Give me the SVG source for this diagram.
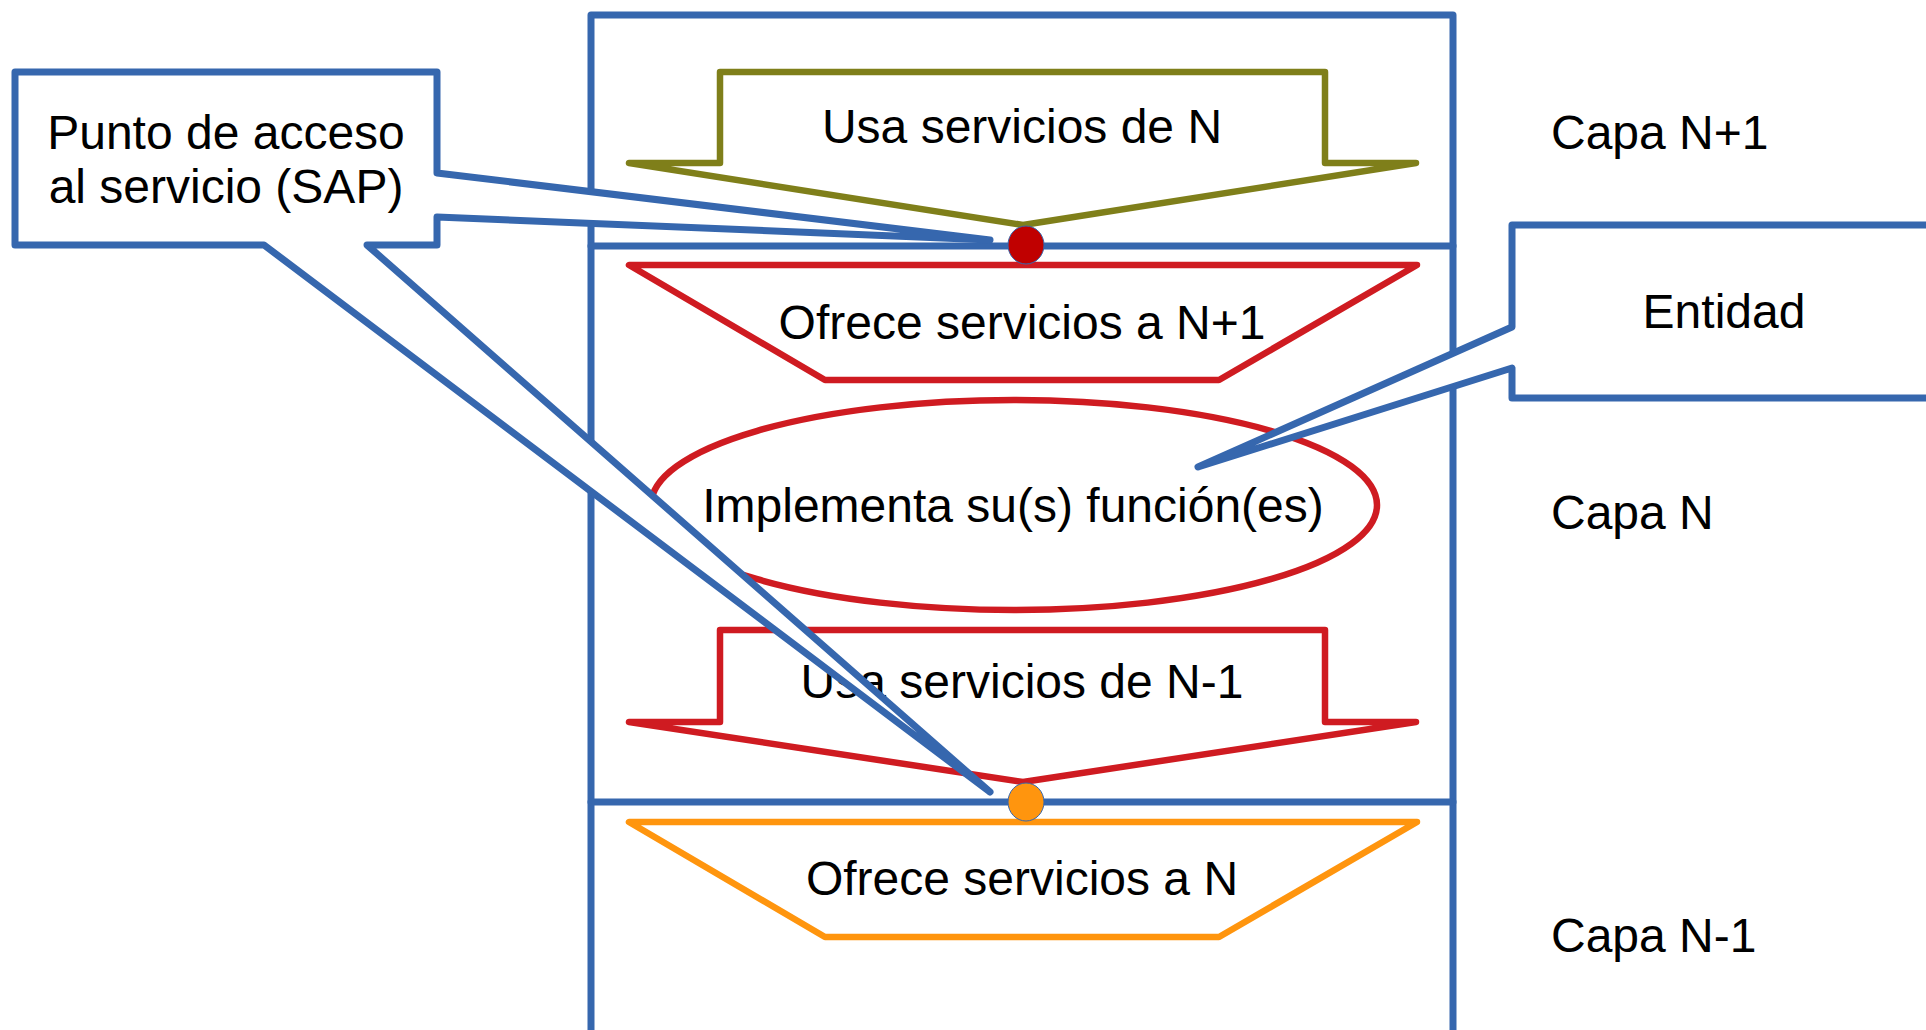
<svg xmlns="http://www.w3.org/2000/svg" width="1926" height="1030" viewBox="0 0 1926 1030">
<style>
.t{font-family:"Liberation Sans",Arial,sans-serif;font-size:48px;fill:#000;}
.c{text-anchor:middle;}
.blue{fill:none;stroke:#3667ae;stroke-width:7;stroke-linejoin:round;stroke-linecap:round;}
.call{fill:#fff;stroke:#3667ae;stroke-width:7;stroke-linejoin:round;stroke-linecap:round;}
.shape{fill:#fff;stroke-width:6.5;stroke-linejoin:round;stroke-linecap:round;}
</style>
<rect width="1926" height="1030" fill="#fff"/>
<g id="layers">
  <path class="blue" d="M591,1040 V15 H1453 V1040"/>
  <line class="blue" x1="591" y1="246" x2="1453" y2="246"/>
  <line class="blue" x1="591" y1="802" x2="1453" y2="802"/>
</g>
<g id="usa-n">
  <path class="shape" stroke="#7f7f1a" d="M720,72 H1325 V163 H1416 L1023,225 L629,163 H720 Z"/>
  <text class="t c" x="1022" y="143">Usa servicios de N</text>
</g>
<g id="ofrece-n1">
  <path class="shape" stroke="#cf1b21" d="M629,265 H1417 L1219,380 H825 Z"/>
  <text class="t c" x="1022" y="339">Ofrece servicios a N+1</text>
</g>
<g id="implementa">
  <ellipse class="shape" stroke="#cf1b21" cx="1014" cy="505" rx="363" ry="105"/>
  <text class="t c" x="1013" y="522">Implementa su(s) función(es)</text>
</g>
<g id="usa-n1">
  <path class="shape" stroke="#cf1b21" d="M720,630 H1325 V722 H1416 L1023,782 L629,722 H720 Z"/>
  <text class="t c" x="1022" y="698">Usa servicios de N-1</text>
</g>
<g id="ofrece-n">
  <path class="shape" stroke="#ff950e" d="M629,822 H1417 L1219,937 H825 Z"/>
  <text class="t c" x="1022" y="895">Ofrece servicios a N</text>
</g>
<g id="capas">
  <text class="t" x="1551" y="149">Capa N+1</text>
  <text class="t" x="1551" y="529">Capa N</text>
  <text class="t" x="1551" y="952">Capa N-1</text>
</g>
<g id="connectors">
  <g id="sap">
    <path class="call" d="M15,72 H437 V173 L990,240 L437,217 V245 H367 L990,792 L264,245 H15 Z"/>
    <text class="t c" x="226" y="149">Punto de acceso</text>
    <text class="t c" x="226" y="203">al servicio (SAP)</text>
  </g>
  <g id="entidad">
    <path class="call" d="M1940,225 H1512 V327 L1198,467 L1512,368 V398 H1940"/>
    <text class="t c" x="1724" y="328">Entidad</text>
  </g>
</g>
<g id="sap-points">
  <ellipse cx="1026" cy="245" rx="18" ry="19" fill="#c00000" stroke="#3667ae" stroke-width="1"/>
  <ellipse cx="1026" cy="802" rx="18" ry="19" fill="#ff950e" stroke="#3667ae" stroke-width="1"/>
</g>
</svg>
